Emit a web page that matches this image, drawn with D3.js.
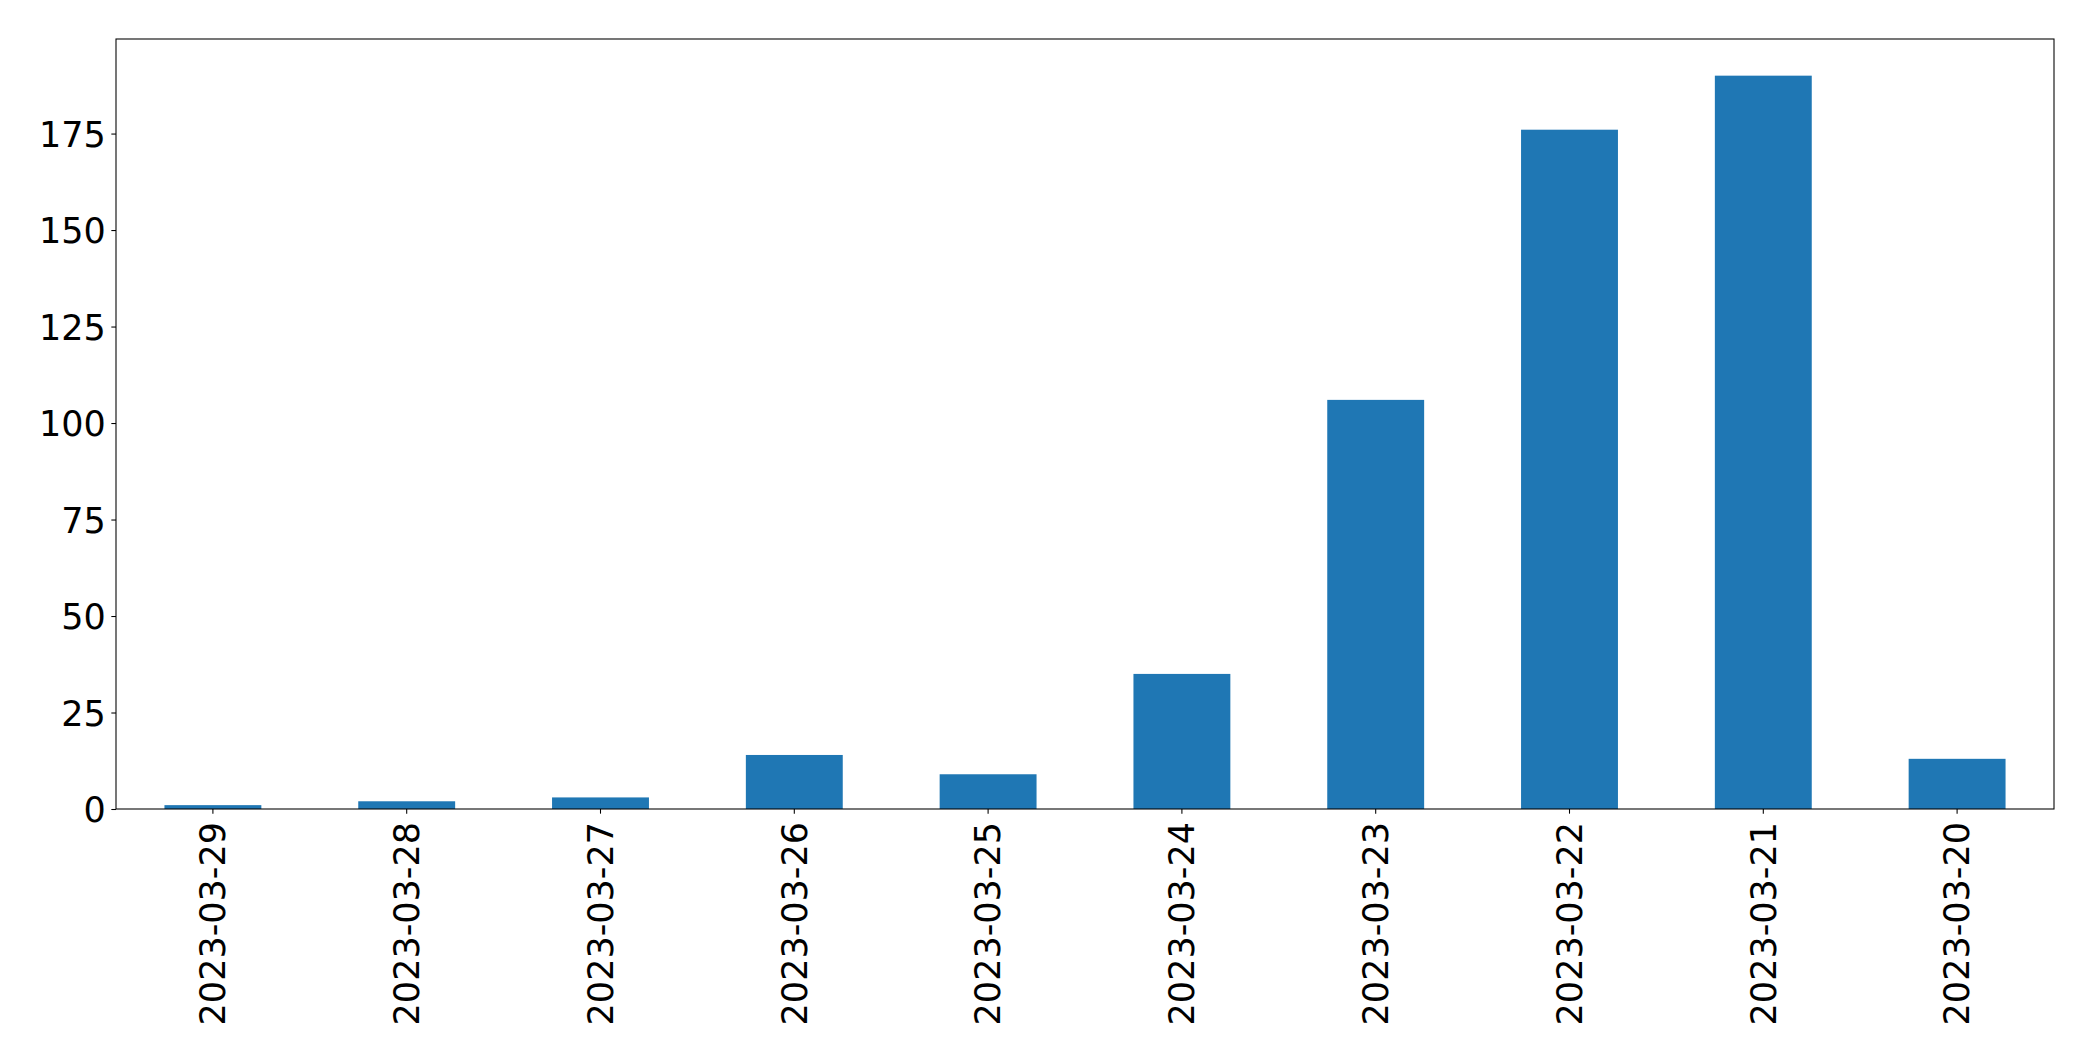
<!DOCTYPE html>
<html>
<head>
<meta charset="utf-8">
<script src="https://cdn.jsdelivr.net/npm/d3@7"></script>
<style>
  html, body { margin: 0; padding: 0; background: #fff; }
  svg { display: block; }
  text { font-family: "DejaVu Sans", sans-serif; }
</style>
</head>
<body>
<svg id="chart" width="2093" height="1061"></svg>
<script>
const categories = ["2023-03-29","2023-03-28","2023-03-27","2023-03-26","2023-03-25","2023-03-24","2023-03-23","2023-03-22","2023-03-21","2023-03-20"];
const values = [1, 2, 3, 14, 9, 35, 106, 176, 190, 13];
const yTicks = [0, 25, 50, 75, 100, 125, 150, 175];

const W = 2093, H = 1061;
const margin = {left: 116, right: 39, top: 39, bottom: 252};
const plotW = W - margin.left - margin.right;
const plotH = H - margin.top - margin.bottom;
const fontSize = 35;

const svg = d3.select("#chart");
const g = svg.append("g").attr("transform", `translate(${margin.left},${margin.top})`);

const x = d3.scaleBand().domain(categories).range([0, plotW]).paddingInner(0.5).paddingOuter(0.25);
const y = d3.scaleLinear().domain([0, d3.max(values) * 1.05]).range([plotH, 0]);

g.selectAll("rect.bar").data(values).enter().append("rect")
  .attr("class", "bar")
  .attr("x", (d, i) => x(categories[i]))
  .attr("width", x.bandwidth())
  .attr("y", d => y(d))
  .attr("height", d => plotH - y(d))
  .attr("fill", "#1f77b4");

const yAxis = g.append("g")
  .call(d3.axisLeft(y).tickValues(yTicks).tickSize(4.67).tickPadding(5.5).tickFormat(d3.format("d")));
yAxis.select(".domain").remove();
yAxis.selectAll("line").attr("stroke", "#000").attr("stroke-width", 1.07);
yAxis.selectAll("text").attr("font-size", fontSize).attr("fill", "#000").attr("font-family", "DejaVu Sans, sans-serif").attr("dy", "0.36em");

const xAxis = g.append("g").attr("transform", `translate(0,${plotH})`)
  .call(d3.axisBottom(x).tickSize(4.67).tickPadding(4.67));
xAxis.select(".domain").remove();
xAxis.selectAll("line").attr("stroke", "#000").attr("stroke-width", 1.07);
xAxis.selectAll("text")
  .attr("font-size", fontSize).attr("fill", "#000").attr("font-family", "DejaVu Sans, sans-serif")
  .attr("text-anchor", "end")
  .attr("y", 0).attr("x", 0).attr("dy", "0.35em")
  .attr("transform", "translate(0,13) rotate(-90)");

g.append("rect").attr("x", 0).attr("y", 0).attr("width", plotW).attr("height", plotH)
  .attr("fill", "none").attr("stroke", "#000").attr("stroke-width", 1.07);
</script>
</body>
</html>
